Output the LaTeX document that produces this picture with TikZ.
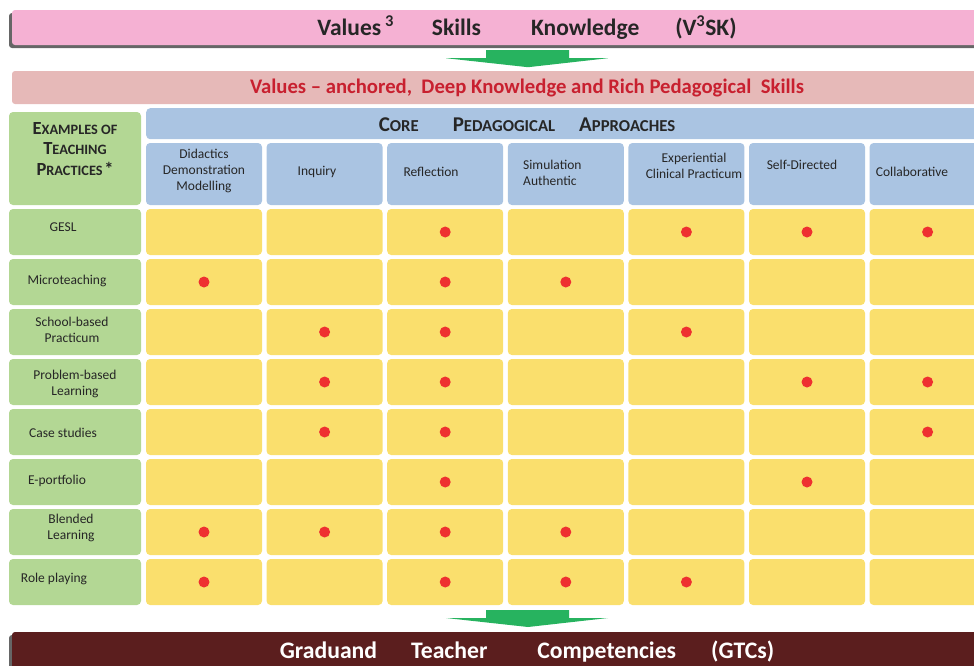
\documentclass[tikz,border=0pt]{standalone}
\usepackage{fontspec}
\setmainfont{Carlito}
\usetikzlibrary{shadows}

\definecolor{topPink}{HTML}{F5B1D3}
\definecolor{bandRose}{HTML}{E6B9B8}
\definecolor{bandRed}{HTML}{C8202F}
\definecolor{coreBlue}{HTML}{AAC4E2}
\definecolor{practGreen}{HTML}{B3D794}
\definecolor{cellYellow}{HTML}{FADF6D}
\definecolor{dotRed}{HTML}{EE3030}
\definecolor{arrowGreen}{HTML}{27B35F}
\definecolor{gtcMaroon}{HTML}{5B1E1E}
\definecolor{inkGray}{HTML}{262626}

% fake small caps: big first letter, smaller rest
\newcommand{\smcap}[4]{{\fontsize{#3}{#3}\selectfont #1}{\fontsize{#4}{#4}\selectfont #2}}

\begin{document}
\begin{tikzpicture}[x=1pt, y=-1pt, inner sep=0pt,
    band/.style={rectangle, rounded corners=3pt, minimum width=1030pt},
    box/.style={rectangle, rounded corners=4pt, minimum width=116pt, minimum height=46pt},
    cell/.style={box, fill=cellYellow},
    practice/.style={box, fill=practGreen, minimum width=132pt},
    approach/.style={box, fill=coreBlue, minimum height=62pt},
    txt/.style={font=\fontsize{13.5}{16}\selectfont, text=inkGray, align=center},
    pics/downarrow/.style={code={
        \fill[arrowGreen] (-41,0) -- (42,0) -- (42,8) -- (81,8) -- (1,17) -- (-81,8) -- (-41,8) -- cycle;}}]
    \useasboundingbox (0,0) rectangle (974,665);

    % values, skills, knowledge
    \node[band, fill=topPink, minimum height=35pt, text=inkGray, font=\fontsize{23.5}{24}\bfseries\selectfont,
          drop shadow={shadow xshift=-3pt, shadow yshift=-3pt, fill=black!75, opacity=0.8}] (v3sk) at (527,27.5)
        {Values\,\textsuperscript{3}\hspace{38pt}Skills\hspace{50pt}Knowledge\hspace{36pt}(V\textsuperscript{3}SK)};
    \path (v3sk.south) ++(0,5) pic {downarrow};
    \node[band, fill=bandRose, minimum height=33pt, text=bandRed, font=\fontsize{20.7}{21}\bfseries\selectfont] (vadk) at (527,87.5)
        {Values -- anchored,\ \ Deep Knowledge and Rich Pedagogical\ \ Skills};

    % header row
    \node[rectangle, rounded corners=4pt, fill=coreBlue, minimum width=900pt, minimum height=31pt, anchor=north west] (core) at (146,108) {};
    \node[text=inkGray, font=\bfseries] (coretitle) at (527,125)
        {\smcap{C}{ORE}{21}{16.7}\hspace{34pt}\smcap{P}{EDAGOGICAL}{21}{16.7}\hspace{24pt}\smcap{A}{PPROACHES}{21}{16.7}};
    \node[practice, minimum height=93pt] (examples) at (75,158.5) {};
    \node[text=inkGray, font=\bfseries, align=center] (examplestitle) at (75,149)
        {\smcap{E}{XAMPLES OF}{18.5}{14.3}\\[7pt]\smcap{T}{EACHING}{18.5}{14.3}\\[7pt]\smcap{P}{RACTICES}{18.5}{14.3}\,{\fontsize{18.5}{18.5}\selectfont *}};

    \foreach \c in {1,...,7}
        \node[approach] (a\c) at ({204+(\c-1)*120.6},174) {};
    \node[txt] (t1) at (204,171) {Didactics\\Demonstration\\Modelling};
    \node[txt] (t2) at (317,172) {Inquiry};
    \node[txt] (t3) at (431,172) {Reflection};
    \node[txt, align=left, anchor=west] (t4) at (523,173) {Simulation\\Authentic};
    \node[txt] (t5) at (694,166) {Experiential\\Clinical Practicum};
    \node[txt] (t6) at (802,165) {Self-Directed};
    \node[txt] (t7) at (912,172) {Collaborative};

    % practices and cells
    \foreach \r in {1,...,8} {
        \node[practice] (p\r) at (75,{232+(\r-1)*50}) {};
        \foreach \c in {1,...,7}
            \node[cell] (c\r-\c) at ({204+(\c-1)*120.6},{232+(\r-1)*50}) {};
    }
    \foreach \r/\x/\y/\lbl in {1/63/227/GESL, 2/67/281/Microteaching, 3/72/330/{School-based\\Practicum},
                               4/75/384/{Problem-based\\Learning}, 5/63/433/Case studies, 6/57/481/E-portfolio,
                               7/71/528/{Blended\\Learning}, 8/54/579/Role playing}
        \node[txt] (l\r) at (\x,\y) {\lbl};

    % which approach each practice uses
    \foreach \r/\c in {1/3,1/5,1/6,1/7, 2/1,2/3,2/4, 3/2,3/3,3/5, 4/2,4/3,4/6,4/7,
                       5/2,5/3,5/7, 6/3,6/6, 7/1,7/2,7/3,7/4, 8/1,8/3,8/4,8/5}
        \fill[dotRed] (c\r-\c) circle (5.5);

    % graduand teacher competencies
    \path (527,610) pic {downarrow};
    \node[band, fill=gtcMaroon, minimum height=40pt, text=white, font=\fontsize{23.7}{24}\bfseries\selectfont,
          drop shadow={shadow xshift=-3pt, shadow yshift=-3pt, fill=black!75, opacity=0.8}] (gtc) at (527,652)
        {Graduand\hspace{34pt}Teacher\hspace{50pt}Competencies\hspace{35pt}(GTCs)};
\end{tikzpicture}
\end{document}
